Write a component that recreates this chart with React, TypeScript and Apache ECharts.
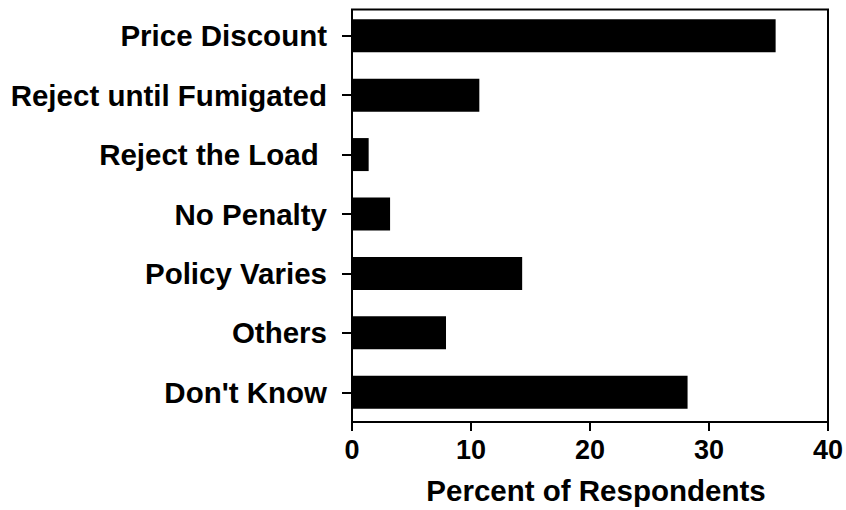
import React, { useEffect, useRef } from "react";
import * as echarts from "echarts";

const categories = [
  "Price Discount",
  "Reject until Fumigated",
  "Reject the Load ",
  "No Penalty",
  "Policy Varies",
  "Others",
  "Don't Know",
];
const percentValues = [35.6, 10.7, 1.4, 3.2, 14.3, 7.9, 28.2];
const xAxisTitle = "Percent of Respondents";

const FONT = "'Liberation Sans', Arial, Helvetica, sans-serif";

export default function App() {
  const ref = useRef<HTMLDivElement>(null);
  useEffect(() => {
    if (!ref.current) return;
    const chart = echarts.init(ref.current, undefined, { renderer: "svg" });
    const gLeft = 352;
    const gRight = 18;
    const gTop = 6;
    const gBottom = 86;
    const W = 846;
    const H = 510;
    chart.setOption({
      animation: false,
      backgroundColor: "#ffffff",
      grid: { left: gLeft, right: gRight, top: gTop, bottom: gBottom, containLabel: false },
      xAxis: {
        type: "value",
        min: 0,
        max: 40,
        interval: 10,
        position: "bottom",
        axisLine: { show: true, lineStyle: { color: "#000", width: 2 } },
        axisTick: { show: true, inside: false, length: 9, lineStyle: { color: "#000", width: 2 } },
        splitLine: { show: false },
        axisLabel: {
          color: "#000",
          fontFamily: FONT,
          fontWeight: "bold",
          fontSize: 27,
          margin: 14,
        },
        name: xAxisTitle,
        nameLocation: "middle",
        nameGap: 53,
        nameTextStyle: {
          color: "#000",
          fontFamily: FONT,
          fontWeight: "bold",
          fontSize: 29.5,
          padding: [0, 0, 0, 12],
        },
      },
      yAxis: {
        type: "category",
        data: categories,
        inverse: true,
        axisLine: { show: false },
        axisTick: { show: true, inside: false, length: 10, alignWithLabel: true, lineStyle: { color: "#000", width: 2 } },
        splitLine: { show: false },
        axisLabel: {
          color: "#000",
          fontFamily: FONT,
          fontWeight: "bold",
          fontSize: 29.5,
          margin: 25,
          interval: 0,
        },
      },
      series: [
        {
          type: "bar",
          data: percentValues,
          barWidth: 33,
          itemStyle: { color: "#000" },
        },
      ],
      graphic: [
        {
          type: "polyline",
          shape: {
            points: [
              [gLeft, H - gBottom],
              [gLeft, 9.5],
              [W - gRight, 9.5],
              [W - gRight, H - gBottom],
            ],
          },
          style: { stroke: "#000", lineWidth: 2, fill: null },
          z: 10,
        },
      ],
    });
    return () => chart.dispose();
  }, []);
  return (
    <div
      ref={ref}
      style={{ position: "fixed", left: 0, top: 0, width: 846, height: 510 }}
    />
  );
}
